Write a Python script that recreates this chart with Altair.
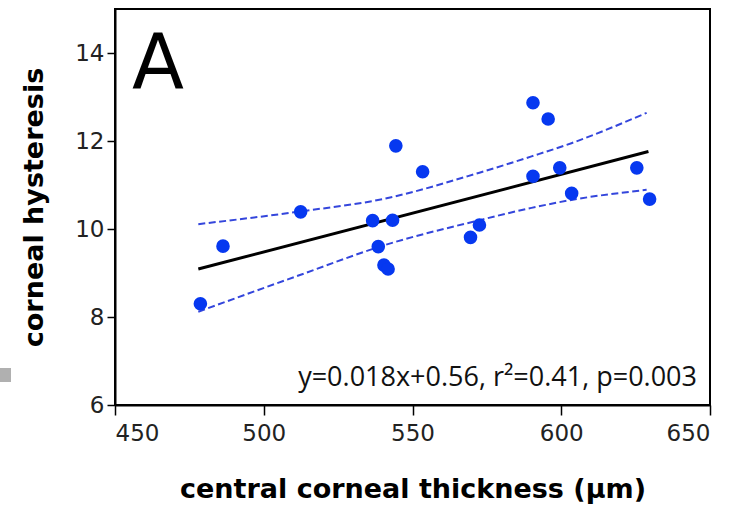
import altair as alt
import pandas as pd

# scatter data (central corneal thickness in µm, corneal hysteresis)
cct = [478.7, 486.3, 512.4, 536.6, 538.5, 540.4, 541.8, 543.3, 544.4, 553.4,
       569.5, 572.5, 590.5, 595.6, 590.5, 599.5, 603.5, 625.4, 629.7]
ch = [8.30, 9.61, 10.39, 10.19, 9.60, 9.18, 9.09, 10.20, 11.89, 11.30,
      9.81, 10.09, 12.87, 12.50, 11.20, 11.39, 10.81, 11.39, 10.68]

# regression line end points
fit_x = [478.0, 629.3]
fit_y = [9.09, 11.76]

# 95% confidence band curves
band_x = [478.0, 512.4, 540.0, 572.5, 590.0, 603.4, 628.7]
band_upper = [10.11, 10.40, 10.68, 11.28, 11.65, 11.95, 12.64]
band_lower = [8.12, 8.96, 9.62, 10.20, 10.48, 10.66, 10.89]

x_ticks = [450, 500, 550, 600, 650]
y_ticks = [6, 8, 10, 12, 14]

pts = pd.DataFrame({"x": cct, "y": ch})
fit = pd.DataFrame({"x": fit_x, "y": fit_y})
band = pd.DataFrame({
    "x": band_x * 2,
    "y": band_upper + band_lower,
    "side": ["upper"] * len(band_x) + ["lower"] * len(band_x),
})

xscale = alt.Scale(domain=[450, 650], nice=False, zero=False)
yscale = alt.Scale(domain=[6, 15], nice=False, zero=False)

xaxis = alt.Axis(values=x_ticks, title="central corneal thickness (μm)",
                 tickSize=10, labelPadding=7, labelFontSize=23,
                 labelFont="DejaVu Sans", labelColor="#222222",
                 titleFont="DejaVu Sans", titleFontSize=27, titleFontWeight="bold",
                 titleColor="black", titleY=92, titleBaseline="alphabetic")
yaxis = alt.Axis(values=y_ticks, title="corneal hysteresis",
                 tickSize=8, labelPadding=3, labelFontSize=23,
                 labelFont="DejaVu Sans", labelColor="#222222",
                 titleFont="DejaVu Sans", titleFontSize=27, titleFontWeight="bold",
                 titleColor="black", titleX=-73, titleBaseline="alphabetic")

points = alt.Chart(pts).mark_circle(size=185, color="#0638f0", opacity=1).encode(
    x=alt.X("x:Q", scale=xscale, axis=xaxis),
    y=alt.Y("y:Q", scale=yscale, axis=yaxis),
)

bands = alt.Chart(band).mark_line(color="#3446dc", strokeWidth=2,
                                  strokeDash=[7, 3.5], interpolate="monotone").encode(
    x=alt.X("x:Q", scale=xscale),
    y=alt.Y("y:Q", scale=yscale),
    detail="side:N",
)

line = alt.Chart(fit).mark_line(color="black", strokeWidth=3).encode(
    x=alt.X("x:Q", scale=xscale),
    y=alt.Y("y:Q", scale=yscale),
)

label_a = alt.Chart(pd.DataFrame({"t": ["A"]})).mark_text(
    font="DejaVu Sans", fontSize=76, align="left", baseline="alphabetic",
    color="black").encode(x=alt.value(17), y=alt.value(79), text="t:N")

equation = alt.Chart(pd.DataFrame({"t": ["y=0.018x+0.56, r²=0.41, p=0.003"]})).mark_text(
    font="Open Sans", fontSize=27, align="right", baseline="alphabetic",
    color="#111111").encode(x=alt.value(582), y=alt.value(377), text="t:N")

speck = alt.Chart(pd.DataFrame({"a": [0]})).mark_rect(color="#b0b0b0").encode(
    x=alt.value(-115), x2=alt.value(-104), y=alt.value(359), y2=alt.value(373))

chart = alt.layer(bands, line, points, label_a, equation, speck).properties(
    width=595, height=396,
    autosize=alt.AutoSizeParams(type="none"),
    padding={"left": 115, "top": 9, "right": 27, "bottom": 105},
    background="white",
).configure_view(stroke="black", strokeWidth=2).configure_axis(
    grid=False, domainColor="black", domainWidth=2, tickColor="black", tickWidth=1.5,
)

chart.save("out.html", embed_options={"renderer": "svg", "actions": False})
